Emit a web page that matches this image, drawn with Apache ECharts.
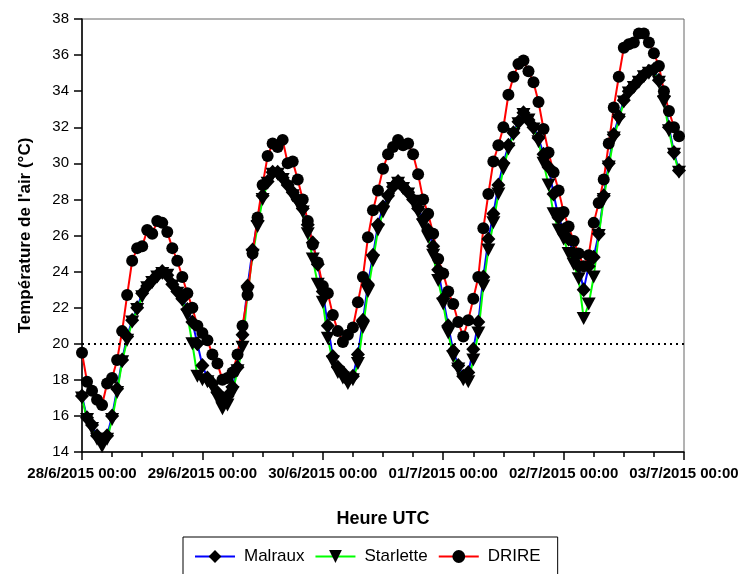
<!DOCTYPE html>
<html>
<head>
<meta charset="utf-8">
<script src="https://cdn.jsdelivr.net/npm/echarts@6/dist/echarts.min.js"></script>
<style>
html,body{margin:0;padding:0;background:#fff;}
#chart{width:742px;height:574px;}
</style>
</head>
<body>
<div id="chart"></div>
<script>
// x tick labels (one per day, hours 0,24,...,120)
const dayLabels = ['28/6/2015 00:00','29/6/2015 00:00','30/6/2015 00:00','01/7/2015 00:00','02/7/2015 00:00','03/7/2015 00:00'];
// hourly time index since 28/6/2015 00:00 UTC
const hours = Array.from({length: 120}, (_, i) => i);

const malraux = [
17.1,15.9,15.5,14.9,14.6,14.9,16.0,17.5,19.1,20.4,21.3,22.0,22.8,23.2,23.5,23.8,24.0,23.8,23.3,22.9,22.5,21.9,21.2,20.0,
18.8,18.1,17.8,17.3,16.8,17.1,17.6,18.7,20.5,23.2,25.2,26.8,28.2,29.0,29.5,29.5,29.2,28.8,28.4,28.0,27.5,26.6,25.6,24.4,
22.9,21.0,19.3,18.7,18.4,18.0,18.2,19.4,21.3,23.3,24.9,26.6,27.6,28.2,28.7,29.0,28.7,28.4,28.0,27.5,26.9,26.3,25.4,24.1,
22.5,21.0,19.6,18.8,18.2,18.4,19.7,21.2,23.7,25.8,27.2,28.8,30.0,31.0,31.7,32.3,32.8,32.4,32.0,31.4,30.5,29.8,28.3,27.0,
26.3,25.8,25.0,24.3,23.0,24.3,24.8,26.1,28.2,30.0,31.6,32.6,33.5,34.0,34.3,34.6,34.9,35.1,35.2,34.6,33.7,32.0,30.6,29.6
];
const starlette = [
17.0,15.8,15.3,14.7,14.3,14.7,15.8,17.3,19.0,20.2,21.2,21.9,22.6,23.1,23.4,23.7,23.9,23.8,23.2,22.8,22.4,21.6,20.0,18.2,
18.0,17.9,17.6,17.0,16.4,16.6,17.3,18.5,19.8,22.8,24.9,26.5,28.0,28.9,29.4,29.4,29.1,28.7,28.2,27.8,27.3,26.1,24.7,23.3,
22.3,20.3,19.0,18.4,18.1,17.8,18.0,18.9,20.9,22.9,24.6,26.3,27.3,28.0,28.6,28.9,28.6,28.3,27.9,27.3,26.6,25.9,24.9,23.5,
22.2,20.6,19.3,18.6,18.0,17.9,19.1,20.6,23.2,25.2,26.7,28.3,29.7,30.8,31.6,32.2,32.7,32.4,31.9,31.2,30.0,28.8,27.2,26.3,
25.8,25.0,24.4,23.6,21.4,22.2,23.7,26.0,28.0,29.8,31.4,32.4,33.4,33.9,34.2,34.5,34.8,35.0,35.1,34.5,33.4,31.8,30.5,29.5
];
const drire = [
19.5,17.9,17.4,16.9,16.6,17.8,18.1,19.1,20.7,22.7,24.6,25.3,25.4,26.3,26.1,26.8,26.7,26.2,25.3,24.6,23.7,22.8,22.0,21.0,
20.6,20.2,19.4,18.9,18.0,18.1,18.4,19.4,21.0,22.7,25.0,27.0,28.8,30.4,31.1,30.9,31.3,30.0,30.1,29.1,28.0,26.8,25.5,24.5,
23.2,22.8,21.6,20.7,20.1,20.5,20.9,22.3,23.7,25.9,27.4,28.5,29.7,30.5,30.9,31.3,31.0,31.1,30.5,29.4,28.0,27.2,26.1,24.7,
23.9,22.9,22.2,21.2,20.4,21.3,22.5,23.7,26.4,28.3,30.1,31.0,32.0,33.8,34.8,35.5,35.7,35.1,34.5,33.4,31.9,30.6,29.5,28.5,
27.3,26.5,25.7,25.0,24.3,24.9,26.7,27.8,29.1,31.1,33.1,34.8,36.4,36.6,36.7,37.2,37.2,36.7,36.1,35.4,34.0,32.9,32.0,31.5
];
const threshold = 20;

const pair = arr => hours.map((h, i) => [h, arr[i]]);
const FONT = '"Liberation Sans", Arial, sans-serif';

const chart = echarts.init(document.getElementById('chart'), null, {renderer: 'canvas'});
chart.setOption({
  animation: false,
  backgroundColor: '#ffffff',
  grid: {left: 82, right: 58, top: 19, bottom: 122, show: true, borderColor: '#666', borderWidth: 1},
  xAxis: {
    type: 'value', min: 0, max: 120, interval: 24,
    name: 'Heure UTC', nameLocation: 'middle', nameGap: 58,
    nameTextStyle: {fontFamily: FONT, fontSize: 18, fontWeight: 'bold', color: '#000'},
    axisLine: {show: true, lineStyle: {color: '#000', width: 1.5}},
    axisTick: {show: true, length: 8, lineStyle: {color: '#000', width: 1.5}},
    minorTick: {show: true, splitNumber: 4, length: 5, lineStyle: {color: '#000', width: 1.5}},
    splitLine: {show: false},
    axisLabel: {
      margin: 14, fontFamily: FONT, fontSize: 15, fontWeight: 'bold', color: '#000',
      formatter: v => dayLabels[Math.round(v / 24)] || ''
    }
  },
  yAxis: {
    type: 'value', min: 14, max: 38, interval: 2,
    name: "Température de l'air (°C)", nameLocation: 'middle', nameGap: 48,
    nameTextStyle: {fontFamily: FONT, fontSize: 17, fontWeight: 'bold', color: '#000'},
    axisLine: {show: true, lineStyle: {color: '#000', width: 1.5}},
    axisTick: {show: true, length: 8, lineStyle: {color: '#000', width: 1.5}},
    splitLine: {show: false},
    axisLabel: {margin: 13, fontFamily: FONT, fontSize: 15, color: '#000'}
  },
  legend: {
    left: 183, top: 537, orient: 'horizontal',
    itemWidth: 40, itemHeight: 16, itemGap: 10,
    borderColor: '#000', borderWidth: 1, padding: [11, 17, 14, 11],
    textStyle: {fontFamily: FONT, fontSize: 17, color: '#000', padding: [0, 0, 0, 4]},
    data: ['Malraux', 'Starlette', 'DRIRE']
  },
  series: [
    {
      name: 'Malraux', type: 'line', data: pair(malraux),
      symbol: 'diamond', symbolSize: [14, 15],
      lineStyle: {color: '#0000ff', width: 2},
      itemStyle: {color: '#000', borderWidth: 0},
      markLine: {
        silent: true, symbol: 'none', label: {show: false},
        lineStyle: {color: '#000', type: [2, 4], width: 2},
        data: [{yAxis: threshold}]
      }
    },
    {
      name: 'Starlette', type: 'line', data: pair(starlette),
      symbol: 'triangle', symbolRotate: 180, symbolSize: [14, 13],
      lineStyle: {color: '#00ff00', width: 2},
      itemStyle: {color: '#000', borderWidth: 0}
    },
    {
      name: 'DRIRE', type: 'line', data: pair(drire),
      symbol: 'circle', symbolSize: 12,
      lineStyle: {color: '#ff0000', width: 2},
      itemStyle: {color: '#000', borderWidth: 0}
    }
  ]
});
</script>
</body>
</html>
